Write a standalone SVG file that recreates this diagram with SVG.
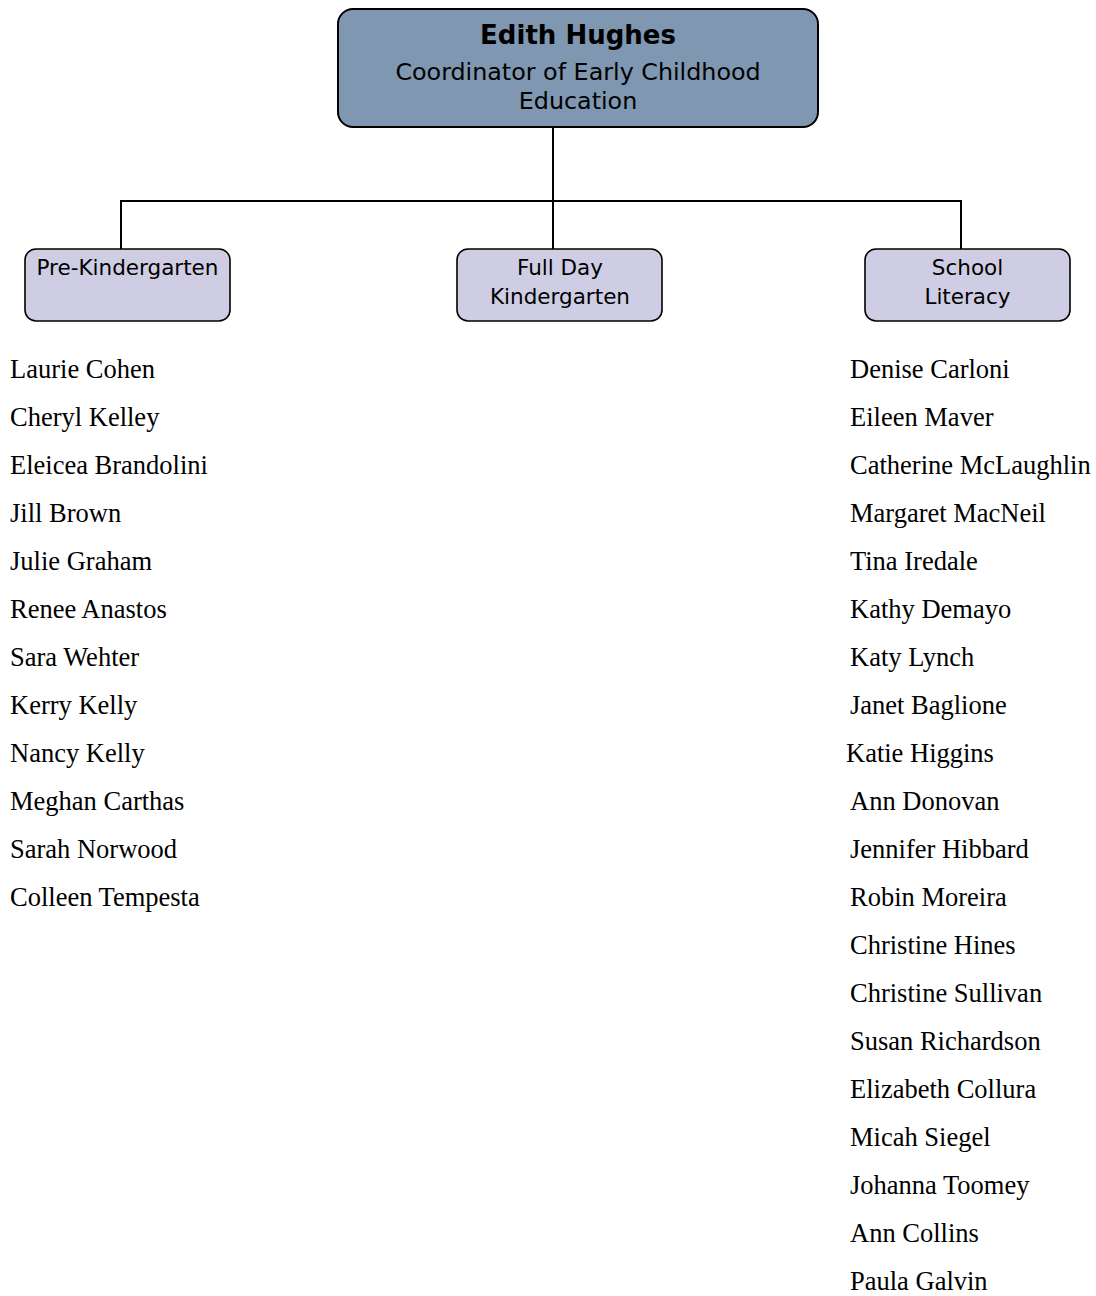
<svg xmlns="http://www.w3.org/2000/svg" width="1096" height="1296" viewBox="0 0 1096 1296">
<style>
.top{fill:#7f97b0;stroke:#000;stroke-width:2}
.sub{fill:#cfcde3;stroke:#000;stroke-width:1.6}
.s{font-family:"DejaVu Sans",Verdana,sans-serif;fill:#000;text-anchor:middle}
.n{font-family:"Liberation Serif","Times New Roman",serif;font-size:26.5px;fill:#000}
.c{fill:none;stroke:#000;stroke-width:2}
</style>
<rect width="1096" height="1296" fill="#fff"/>
<g id="connectors">
<path class="c" d="M553 127V201M121 249V201H961V249M553 201V249"/>
</g>
<g id="edith">
<rect class="top" x="338" y="9" width="480" height="118" rx="15"/>
<text class="s" x="578" y="44" font-size="26" font-weight="bold" fill="#111">Edith Hughes</text>
<text class="s" x="578" y="80" font-size="23.8">Coordinator of Early Childhood</text>
<text class="s" x="578" y="109" font-size="23.8">Education</text>
</g>
<g id="prek">
<rect class="sub" x="25" y="249" width="205" height="72" rx="11"/>
<text class="s" x="127.5" y="275" font-size="21.5">Pre-Kindergarten</text>
</g>
<g id="fullday">
<rect class="sub" x="457" y="249" width="205" height="72" rx="11"/>
<text class="s" x="560" y="275" font-size="21.5">Full Day</text>
<text class="s" x="560" y="304" font-size="21.5">Kindergarten</text>
</g>
<g id="literacy">
<rect class="sub" x="865" y="249" width="205" height="72" rx="11"/>
<text class="s" x="967.5" y="275" font-size="21.5">School</text>
<text class="s" x="967.5" y="304" font-size="21.5">Literacy</text>
</g>
<g id="prek-staff">
<text class="n" x="10" y="378">Laurie Cohen</text>
<text class="n" x="10" y="426">Cheryl Kelley</text>
<text class="n" x="10" y="474">Eleicea Brandolini</text>
<text class="n" x="10" y="522">Jill Brown</text>
<text class="n" x="10" y="570">Julie Graham</text>
<text class="n" x="10" y="618">Renee Anastos</text>
<text class="n" x="10" y="666">Sara Wehter</text>
<text class="n" x="10" y="714">Kerry Kelly</text>
<text class="n" x="10" y="762">Nancy Kelly</text>
<text class="n" x="10" y="810">Meghan Carthas</text>
<text class="n" x="10" y="858">Sarah Norwood</text>
<text class="n" x="10" y="906">Colleen Tempesta</text>
</g>
<g id="literacy-staff">
<text class="n" x="850" y="378">Denise Carloni</text>
<text class="n" x="850" y="426">Eileen Maver</text>
<text class="n" x="850" y="474">Catherine McLaughlin</text>
<text class="n" x="850" y="522">Margaret MacNeil</text>
<text class="n" x="850" y="570">Tina Iredale</text>
<text class="n" x="850" y="618">Kathy Demayo</text>
<text class="n" x="850" y="666">Katy Lynch</text>
<text class="n" x="850" y="714">Janet Baglione</text>
<text class="n" x="846" y="762">Katie Higgins</text>
<text class="n" x="850" y="810">Ann Donovan</text>
<text class="n" x="850" y="858">Jennifer Hibbard</text>
<text class="n" x="850" y="906">Robin Moreira</text>
<text class="n" x="850" y="954">Christine Hines</text>
<text class="n" x="850" y="1002">Christine Sullivan</text>
<text class="n" x="850" y="1050">Susan Richardson</text>
<text class="n" x="850" y="1098">Elizabeth Collura</text>
<text class="n" x="850" y="1146">Micah Siegel</text>
<text class="n" x="850" y="1194">Johanna Toomey</text>
<text class="n" x="850" y="1242">Ann Collins</text>
<text class="n" x="850" y="1290">Paula Galvin</text>
</g>
</svg>
